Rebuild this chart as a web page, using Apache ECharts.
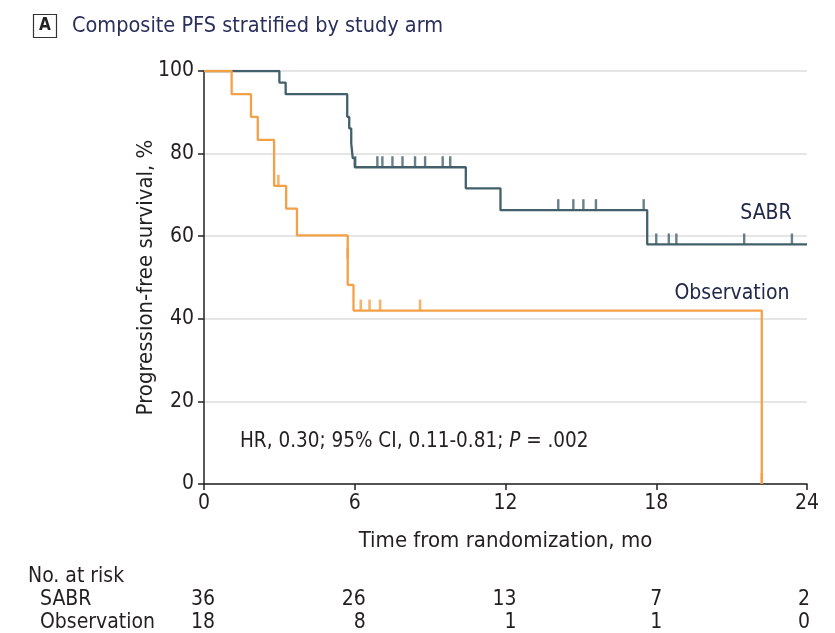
<!DOCTYPE html>
<html>
<head>
<meta charset="utf-8">
<script src="https://cdn.jsdelivr.net/npm/echarts@6/dist/echarts.min.js"></script>
<style>
  html, body { margin: 0; padding: 0; background: #fff; }
  #main { width: 835px; height: 633px; }
</style>
</head>
<body>
<div id="main"></div>
<script>
// KM steps: [month, survival %] - value after each drop
const sabrSteps = [[0,100],[3.0,97.2],[3.25,94.4],[5.7,88.9],[5.78,86.1],[5.86,82.5],[5.92,78.9],[6.0,76.7],[10.42,71.6],[11.8,66.3],[17.64,58.0],[24,58.0]];
const obsSteps = [[0,100],[1.1,94.4],[1.87,88.9],[2.14,83.3],[2.79,72.2],[3.27,66.7],[3.7,60.2],[5.72,48.2],[5.95,42.0],[22.2,42.0],[22.2,0]];
// censor marks
const sabrCensor = [[6.02,76.7],[6.9,76.7],[7.1,76.7],[7.5,76.7],[7.9,76.7],[8.4,76.7],[8.8,76.7],[9.5,76.7],[9.8,76.7],
  [14.1,66.3],[14.7,66.3],[15.1,66.3],[15.6,66.3],[17.5,66.3],
  [18.0,58.0],[18.5,58.0],[18.8,58.0],[21.5,58.0],[23.4,58.0]];
const obsCensor = [[2.96,72.2],[5.72,54.5],[6.24,42.0],[6.59,42.0],[7.01,42.0],[8.6,42.0],[22.2,0]];
const xTicks = [0, 6, 12, 18, 24];
const yTicks = [0, 20, 40, 60, 80, 100];
const riskSabr = [36, 26, 13, 7, 2];
const riskObs = [18, 8, 1, 1, 0];

const FONT = "'DejaVu Sans Condensed', 'Liberation Sans Narrow', 'Roboto', sans-serif";
const sabrColor = '#42606b';
const obsColor = '#f4a046';
const ink = '#231f20';

const myChart = echarts.init(document.getElementById('main'));

let option = {
  backgroundColor: '#fff',
  animation: false,
  textStyle: { fontFamily: FONT },
  grid: { left: 204, right: 28, top: 71, bottom: 149 },
  xAxis: {
    type: 'value', min: 0, max: 24, interval: 6,
    name: 'Time from randomization, mo',
    nameLocation: 'middle', nameGap: 46,
    nameTextStyle: { fontFamily: FONT, fontSize: 22, color: ink },
    axisLine: { lineStyle: { color: '#222', width: 1.5 } },
    axisTick: { length: 6, lineStyle: { color: '#222', width: 1.5 } },
    axisLabel: { fontFamily: FONT, fontSize: 21, color: ink, margin: 9,
      formatter: v => xTicks.indexOf(v) >= 0 ? String(v) : '' },
    splitLine: { show: false }
  },
  yAxis: {
    type: 'value', min: 0, max: 100, interval: 20,
    name: 'Progression-free survival, %',
    nameLocation: 'middle', nameGap: 47, nameRotate: 90, nameMoveOverlap: false,
    nameTextStyle: { fontFamily: FONT, fontSize: 22, color: ink },
    axisLine: { show: true, lineStyle: { color: '#222', width: 1.5 } },
    axisTick: { show: true, length: 6, lineStyle: { color: '#222', width: 1.5 } },
    axisLabel: { fontFamily: FONT, fontSize: 21, color: ink, margin: 10,
      formatter: v => yTicks.indexOf(v) >= 0 ? String(v) : '' },
    splitLine: { show: true, lineStyle: { color: '#dcdcdc', width: 1.5 } }
  },
  series: [
    {
      name: 'SABR', type: 'line', step: 'end', data: sabrSteps,
      symbol: 'none', lineStyle: { color: sabrColor, width: 2.3 }, z: 3
    },
    {
      name: 'Observation', type: 'line', step: 'end', data: obsSteps,
      symbol: 'none', lineStyle: { color: obsColor, width: 2.3 }, z: 4
    },
    {
      type: 'scatter', data: sabrCensor, symbol: 'rect', symbolSize: [2.4, 11],
      symbolOffset: [0, -5.5], itemStyle: { color: sabrColor }, z: 3
    },
    {
      type: 'scatter', data: obsCensor, symbol: 'rect', symbolSize: [2.6, 11],
      symbolOffset: [0, -5.5], itemStyle: { color: obsColor }, z: 4
    }
  ],
  graphic: [
    { type: 'rect', shape: { x: 33.5, y: 14.5, width: 23, height: 23 },
      style: { fill: '#fff', stroke: '#333', lineWidth: 1.2 } },
    { type: 'text', x: 45, y: 26, style: { text: 'A', fontFamily: FONT, fontSize: 17, fontWeight: 'bold',
      fill: '#222', align: 'center', verticalAlign: 'middle' } },
    { type: 'text', x: 72, y: 26, style: { text: 'Composite PFS stratified by study arm', fontFamily: FONT,
      fontSize: 21.5, fill: '#2a2f5c', verticalAlign: 'middle' } },
    { type: 'text', x: 766, y: 214, style: { text: 'SABR', fontFamily: FONT, fontSize: 21,
      fill: '#22284a', align: 'center', verticalAlign: 'middle' } },
    { type: 'text', x: 732, y: 294, style: { text: 'Observation', fontFamily: FONT, fontSize: 21,
      fill: '#22284a', align: 'center', verticalAlign: 'middle' } },
    { type: 'text', x: 240, y: 442, style: {
      text: '{n|HR, 0.30; 95% CI, 0.11-0.81; }{i|P}{n| = .002}',
      verticalAlign: 'middle',
      rich: {
        n: { fontFamily: FONT, fontSize: 20.5, fill: ink, color: ink },
        i: { fontFamily: FONT, fontSize: 20.5, fontStyle: 'italic', fill: ink, color: ink }
      } } },
    { type: 'text', x: 28, y: 577, style: { text: 'No. at risk', fontFamily: FONT, fontSize: 21,
      fill: ink, verticalAlign: 'middle' } },
    { type: 'text', x: 40, y: 600, style: { text: 'SABR', fontFamily: FONT, fontSize: 21,
      fill: ink, verticalAlign: 'middle' } },
    { type: 'text', x: 40, y: 623, style: { text: 'Observation', fontFamily: FONT, fontSize: 21,
      fill: ink, verticalAlign: 'middle' } }
  ]
};

myChart.setOption(option);

// number-at-risk rows, right-aligned just past the matching x ticks
const riskTexts = [];
xTicks.forEach((t, i) => {
  const px = myChart.convertToPixel({ gridIndex: 0 }, [t, 0])[0];
  const dx = i < 3 ? 11 : (i === 3 ? 6 : 3);
  riskTexts.push({ type: 'text', x: px + dx, y: 600, style: { text: String(riskSabr[i]), fontFamily: FONT,
    fontSize: 21, fill: ink, align: 'right', verticalAlign: 'middle' } });
  riskTexts.push({ type: 'text', x: px + dx, y: 623, style: { text: String(riskObs[i]), fontFamily: FONT,
    fontSize: 21, fill: ink, align: 'right', verticalAlign: 'middle' } });
});
myChart.setOption({ graphic: option.graphic.concat(riskTexts) });
</script>
</body>
</html>
